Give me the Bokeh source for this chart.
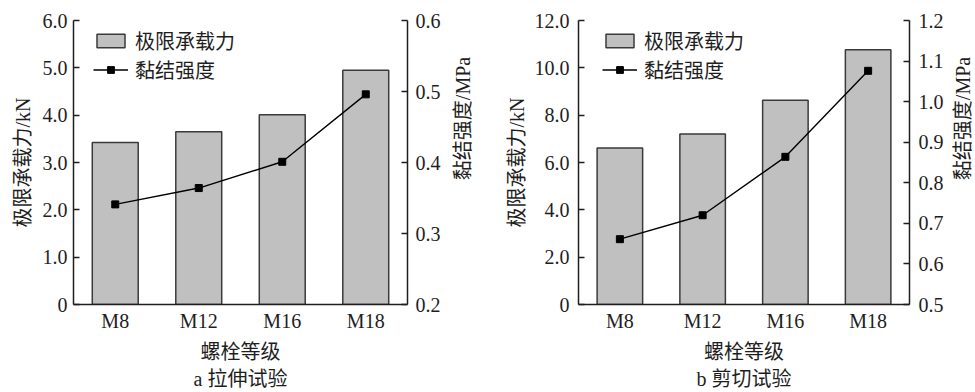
from bokeh.plotting import figure
from bokeh.models import (Range1d, LinearAxis, FixedTicker, PrintfTickFormatter,
                          Legend, LegendItem, Title, ColumnDataSource)
from bokeh.layouts import row
from bokeh.embed import file_html
from bokeh.resources import INLINE

categories = ["M8", "M12", "M16", "M18"]
tension_load = [3.42, 3.65, 4.01, 4.95]
tension_bond = [0.341, 0.364, 0.401, 0.496]
shear_load = [6.61, 7.20, 8.63, 10.76]
shear_bond = [0.661, 0.720, 0.864, 1.076]

tension_left_ticks = [0, 1, 2, 3, 4, 5, 6]
tension_right_ticks = [0.2, 0.3, 0.4, 0.5, 0.6]
shear_left_ticks = [0, 2, 4, 6, 8, 10, 12]
shear_right_ticks = [0.5, 0.6, 0.7, 0.8, 0.9, 1.0, 1.1, 1.2]

x_title = "螺栓等级"
left_title = "极限承载力/kN"
right_title = "黏结强度/MPa"
legend_bar = "极限承载力"
legend_line = "黏结强度"
caption_a = "a 拉伸试验"
caption_b = "b 剪切试验"

SERIF = "Liberation Serif"
MIXED = "Liberation Serif, Noto Sans CJK SC"
INK = "#1e1e1e"


def style_axis(ax, tick_in, label_standoff, axis_label_standoff):
    ax.axis_line_color = INK
    ax.axis_line_width = 1.5
    ax.major_tick_in = tick_in
    ax.major_tick_out = 0
    ax.minor_tick_in = 0
    ax.minor_tick_out = 0
    ax.major_tick_line_color = INK
    ax.major_tick_line_width = 1.5
    ax.minor_tick_line_color = None
    ax.major_label_text_font = SERIF
    ax.major_label_text_font_size = "20px"
    ax.major_label_text_color = INK
    ax.major_label_standoff = label_standoff
    ax.axis_label_text_font = MIXED
    ax.axis_label_text_font_size = "20px"
    ax.axis_label_text_font_style = "normal"
    ax.axis_label_text_color = INK
    ax.axis_label_standoff = axis_label_standoff


def make_panel(load, bond, left_ticks, right_ticks, caption, width,
               b_left, b_right, left_standoff, left_label_standoff,
               right_standoff, legend_x):
    p = figure(x_range=categories,
               y_range=Range1d(left_ticks[0], left_ticks[-1]),
               width=width, height=392,
               min_border_left=b_left, min_border_right=b_right,
               min_border_top=20, min_border_bottom=88,
               toolbar_location=None, output_backend="svg",
               outline_line_color=None, background_fill_color="white",
               border_fill_color="white")
    p.xgrid.grid_line_color = None
    p.ygrid.grid_line_color = None
    p.extra_y_ranges = {"bond": Range1d(right_ticks[0], right_ticks[-1])}

    src = ColumnDataSource(dict(cat=categories, load=load, bond=bond))
    bars = p.vbar(x="cat", top="load", width=0.55, source=src,
                  fill_color="#c0c0c0", line_color="#3a3a3a", line_width=1.5)
    ln = p.line(x="cat", y="bond", source=src, y_range_name="bond",
                line_color="black", line_width=1.4)
    sc = p.scatter(x="cat", y="bond", source=src, y_range_name="bond",
                   marker="square", size=7, fill_color="black", line_color="black")

    # x axis
    xa = p.xaxis[0]
    style_axis(xa, 0, 5, 6)
    xa.major_tick_line_color = None
    xa.axis_label = x_title

    # left axis
    ya = p.yaxis[0]
    style_axis(ya, 6, left_standoff, left_label_standoff)
    ya.ticker = FixedTicker(ticks=left_ticks)
    ya.formatter = PrintfTickFormatter(format="%.1f")
    ya.major_label_overrides = {0: "0"}
    ya.axis_label = left_title

    # right axis (its title is drawn by the narrow strip that follows)
    ra = LinearAxis(y_range_name="bond", ticker=FixedTicker(ticks=right_ticks),
                    formatter=PrintfTickFormatter(format="%.1f"))
    style_axis(ra, 6, right_standoff, 0)
    p.add_layout(ra, "right")

    legend = Legend(items=[LegendItem(label=legend_bar, renderers=[bars]),
                           LegendItem(label=legend_line, renderers=[ln, sc])],
                    location=(legend_x, 220), padding=0, margin=0,
                    border_line_color=None, background_fill_alpha=0,
                    label_text_font=MIXED, label_text_font_size="20px",
                    label_text_color=INK,
                    glyph_width=35, glyph_height=17, label_height=20,
                    label_standoff=7, spacing=0)
    p.add_layout(legend)

    t = Title(text=caption, align="center", text_font=MIXED,
              text_font_size="20px", text_font_style="normal",
              text_color=INK, standoff=0)
    p.add_layout(t, "below")
    return p


def make_right_title(width, b_left):
    # narrow strip whose left-axis title reads bottom-to-top, like the reference
    r = figure(width=width, height=304, x_range=Range1d(0, 1), y_range=Range1d(0, 1),
               min_border=0, min_border_left=b_left, min_border_right=0,
               min_border_top=20, min_border_bottom=0,
               x_axis_location=None, toolbar_location=None, output_backend="svg",
               outline_line_color=None, background_fill_color="white",
               border_fill_color="white")
    r.grid.visible = False
    ax = r.yaxis[0]
    style_axis(ax, 0, 0, 0)
    ax.ticker = FixedTicker(ticks=[])
    ax.axis_line_color = None
    ax.major_tick_line_color = None
    ax.axis_label = right_title
    return r


p1 = make_panel(tension_load, tension_bond, tension_left_ticks, tension_right_ticks,
                caption_a, 448, 73, 41, 6, 6, 8, 20)
r1 = make_right_title(42, 24)
p2 = make_panel(shear_load, shear_bond, shear_left_ticks, shear_right_ticks,
                caption_b, 456, 88, 36, 9, 4, 9, 24)
r2 = make_right_title(29, 27)

layout = row(p1, r1, p2, r2)
open("out.html", "w").write(file_html(layout, INLINE))
